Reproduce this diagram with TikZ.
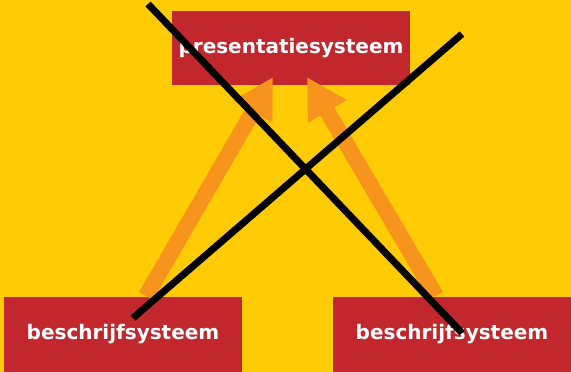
\documentclass[tikz,border=0pt]{standalone}
\usepackage{fontspec}
\setmainfont{DejaVu Sans}
\usetikzlibrary{arrows.meta}
\definecolor{bgyellow}{HTML}{FFCB05}
\definecolor{boxred}{HTML}{C1272D}
\definecolor{arroworange}{HTML}{F7941D}
\tikzset{
  sysbox/.style={rectangle, fill=boxred, text=white, inner sep=0pt,
    minimum width=238pt, minimum height=74pt,
    font=\fontsize{20}{24}\selectfont\bfseries},
  bigarrow/.style={draw=arroworange, line width=16pt,
    -{Triangle[length=40pt,width=42pt,fill=arroworange]}},
  crossline/.style={draw=black, line width=7pt}
}
\begin{document}
\begin{tikzpicture}[x=1pt,y=-1pt]
\fill[bgyellow] (0,0) rectangle (571,372);
\useasboundingbox (0,0) rectangle (571,372);
\node[sysbox] (top) at (291,48) {presentatiesysteem};
\node[sysbox, minimum height=75pt] (bl) at (123,334.5) {beschrijfsysteem};
\node[sysbox, minimum height=75pt] (br) at (452,334.5) {beschrijfsysteem};
\coordinate (ls) at (146,296);
\coordinate (le) at (273,77);
\coordinate (rs) at (436,296);
\coordinate (re) at (307,77);
\draw[bigarrow] (ls) -- (le);
\draw[bigarrow] (rs) -- (re);
\coordinate (c1a) at (148,4);
\coordinate (c1b) at (462,333);
\coordinate (c2a) at (133,318);
\coordinate (c2b) at (462,34);
\draw[crossline] (c1a) -- (c1b);
\draw[crossline] (c2a) -- (c2b);
\end{tikzpicture}
\end{document}
